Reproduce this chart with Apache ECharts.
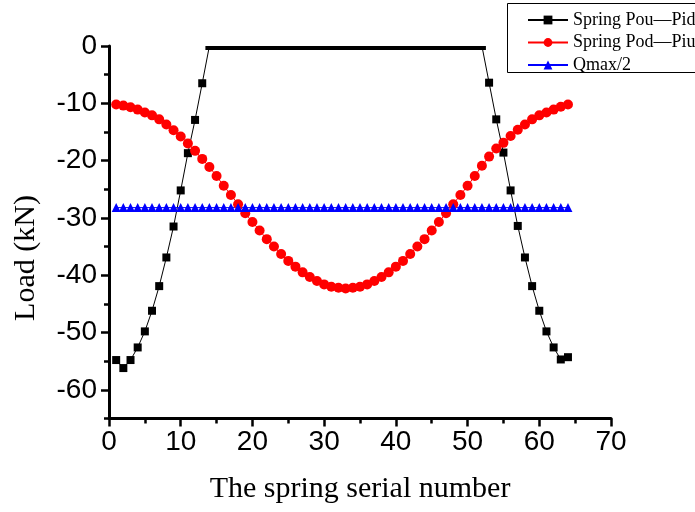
<!DOCTYPE html>
<html>
<head>
<meta charset="utf-8">
<script src="https://cdn.jsdelivr.net/npm/echarts@6/dist/echarts.min.js"></script>
<style>
  html, body { margin: 0; padding: 0; background: #fff; }
  #chart { width: 695px; height: 512px; }
</style>
</head>
<body>
<div id="chart"></div>
<script>
// Spring serial numbers 1..64
const springNo = [
  1, 2, 3, 4, 5, 6, 7, 8, 9, 10, 11, 12, 13, 14, 15, 16,
  17, 18, 19, 20, 21, 22, 23, 24, 25, 26, 27, 28, 29, 30, 31, 32,
  33, 34, 35, 36, 37, 38, 39, 40, 41, 42, 43, 44, 45, 46, 47, 48,
  49, 50, 51, 52, 53, 54, 55, 56, 57, 58, 59, 60, 61, 62, 63, 64
];

// Spring Pou—Pid load (kN)
const pouPid = [
  -54.8, -56.2, -54.8, -52.6, -49.8, -46.2, -41.9, -36.9, -31.5, -25.2, -18.7, -12.9, -6.5,
  0, 0, 0, 0, 0, 0, 0, 0, 0, 0, 0, 0, 0, 0, 0, 0, 0, 0, 0, 0,
  0, 0, 0, 0, 0, 0, 0, 0, 0, 0, 0, 0, 0, 0, 0, 0, 0, 0, 0,
  -6.4, -12.8, -18.6, -25.2, -31.4, -36.9, -41.9, -46.2, -49.8, -52.6, -54.7, -54.3
];

// Spring Pod—Piu load (kN)
const podPiu = [
  -10.2, -10.4, -10.7, -11.1, -11.6, -12.1, -12.8, -13.7, -14.7, -15.8,
  -17.0, -18.3, -19.7, -21.1, -22.7, -24.4, -26.0, -27.6, -29.2, -30.7,
  -32.2, -33.7, -35.0, -36.3, -37.5, -38.5, -39.5, -40.3, -41.0, -41.6,
  -42.0, -42.2, -42.3, -42.2, -42.0, -41.6, -41.0, -40.3, -39.5, -38.5,
  -37.5, -36.3, -35.0, -33.7, -32.2, -30.7, -29.2, -27.6, -26.0, -24.4,
  -22.7, -20.9, -19.3, -17.9, -16.9, -15.7, -14.6, -13.7, -12.8, -12.1,
  -11.6, -11.1, -10.6, -10.2
];

// Qmax/2 reference load (kN)
const qmaxHalf = [
  -28.2, -28.2, -28.2, -28.2, -28.2, -28.2, -28.2, -28.2, -28.2, -28.2, -28.2, -28.2, -28.2, -28.2, -28.2, -28.2,
  -28.2, -28.2, -28.2, -28.2, -28.2, -28.2, -28.2, -28.2, -28.2, -28.2, -28.2, -28.2, -28.2, -28.2, -28.2, -28.2,
  -28.2, -28.2, -28.2, -28.2, -28.2, -28.2, -28.2, -28.2, -28.2, -28.2, -28.2, -28.2, -28.2, -28.2, -28.2, -28.2,
  -28.2, -28.2, -28.2, -28.2, -28.2, -28.2, -28.2, -28.2, -28.2, -28.2, -28.2, -28.2, -28.2, -28.2, -28.2, -28.2
];

// Labelled y ticks
const yMajorTicks = [-60, -50, -40, -30, -20, -10, 0];

const pairs = (ys) => springNo.map((x, i) => [x, ys[i]]);

const chart = echarts.init(document.getElementById('chart'), null, { renderer: 'canvas' });

const axisColor = '#000';
const tickFont = 'Liberation Sans';
const titleFont = 'Liberation Serif';

chart.setOption({
  animation: false,
  backgroundColor: '#fff',
  grid: { left: 109, right: 84, top: 46, bottom: 93.5, containLabel: false },
  xAxis: {
    type: 'value',
    min: 0, max: 70, interval: 10,
    axisLine: { onZero: false, lineStyle: { color: axisColor, width: 3 } },
    axisTick: { length: 8, lineStyle: { color: axisColor, width: 2.5 } },
    minorTick: { show: true, splitNumber: 2, length: 5, lineStyle: { color: axisColor, width: 2.5 } },
    axisLabel: { fontFamily: tickFont, fontSize: 28, color: '#000', margin: 10 },
    splitLine: { show: false },
    name: 'The spring serial number',
    nameLocation: 'middle',
    nameGap: 56,
    nameTextStyle: { fontFamily: titleFont, fontSize: 30, color: '#000' }
  },
  yAxis: [
    {
      type: 'value',
      position: 'left',
      min: -65, max: 0, interval: 5,
      axisLine: { show: true, onZero: false, lineStyle: { color: axisColor, width: 3 } },
      axisTick: { show: true, length: 8, customValues: yMajorTicks, lineStyle: { color: axisColor, width: 2.5 } },
      axisLabel: { customValues: yMajorTicks, fontFamily: tickFont, fontSize: 28, color: '#000', margin: 12 },
      splitLine: { show: false }
    },
    {
      type: 'value',
      position: 'left',
      min: -65, max: 0, interval: 5,
      axisLine: { show: false, onZero: false },
      axisTick: { show: true, length: 5, lineStyle: { color: axisColor, width: 2.5 } },
      axisLabel: { show: false },
      splitLine: { show: false }
    }
  ],
  legend: {
    orient: 'vertical',
    left: 527,
    top: 10,
    padding: 0,
    itemWidth: 40,
    itemHeight: 11,
    itemGap: 2.5,
    textStyle: { fontFamily: titleFont, fontSize: 18, color: '#000', lineHeight: 20 },
    data: ['Spring Pou—Pid', 'Spring Pod—Piu', 'Qmax/2']
  },
  graphic: [
    // legend frame, running off the right edge
    {
      type: 'rect', z: 1,
      shape: { x: 507.5, y: 3.5, width: 220, height: 69 },
      style: { fill: 'none', stroke: '#000', lineWidth: 1 }
    },
    // masks marker halves above the top of the plot area
    {
      type: 'rect', z: 100,
      shape: { x: 111, y: 36, width: 392, height: 10 },
      style: { fill: '#fff' }
    },
    {
      type: 'text', z: 100,
      x: 26, y: 258, rotation: Math.PI / 2,
      style: {
        text: 'Load (kN)',
        font: '30px "Liberation Serif"',
        fill: '#000',
        align: 'center',
        verticalAlign: 'middle'
      }
    }
  ],
  series: [
    {
      name: 'Spring Pou—Pid',
      type: 'line',
      data: pairs(pouPid),
      symbol: 'rect',
      symbolSize: 8,
      showAllSymbol: true,
      lineStyle: { color: '#000', width: 1 },
      itemStyle: { color: '#000' },
      clip: false
    },
    {
      name: 'Spring Pod—Piu',
      type: 'line',
      data: pairs(podPiu),
      symbol: 'circle',
      symbolSize: 10,
      showAllSymbol: true,
      lineStyle: { color: '#ff0000', width: 1 },
      itemStyle: { color: '#ff0000' }
    },
    {
      name: 'Qmax/2',
      type: 'line',
      data: pairs(qmaxHalf),
      symbol: 'triangle',
      symbolSize: 9,
      showAllSymbol: true,
      lineStyle: { color: '#0000ff', width: 1 },
      itemStyle: { color: '#0000ff' }
    }
  ]
});
</script>
</body>
</html>
